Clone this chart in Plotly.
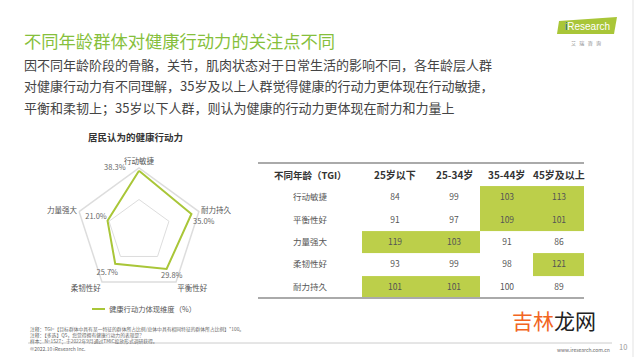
import plotly.graph_objects as go

W, H = 641, 357
FONT = "Noto Sans CJK SC"

# ---------------- data ----------------
title_text = "不同年龄群体对健康行动力的关注点不同"
body_lines = [
    "因不同年龄阶段的骨骼，关节，肌肉状态对于日常生活的影响不同，各年龄层人群",
    "对健康行动力有不同理解，35岁及以上人群觉得健康的行动力更体现在行动敏捷，",
    "平衡和柔韧上；35岁以下人群，则认为健康的行动力更体现在耐力和力量上",
]
radar_title = "居民认为的健康行动力"
radar_dims = ["行动敏捷", "耐力持久", "平衡性好", "柔韧性好", "力量强大"]
radar_vals = [38.3, 35.0, 29.8, 25.7, 21.0]
radar_series = "健康行动力体现维度（%）"

table_corner = "不同年龄（TGI）"
age_groups = ["25岁以下", "25-34岁", "35-44岁", "45岁及以上"]
table_rows = ["行动敏捷", "平衡性好", "力量强大", "柔韧性好", "耐力持久"]
tgi_under25 = [84, 91, 119, 93, 101]
tgi_25_34 = [99, 97, 103, 99, 101]
tgi_35_44 = [103, 109, 91, 98, 100]
tgi_45plus = [113, 101, 86, 121, 89]

notes = [
    "注释：TGI=【目标群体中具有某一特征的群体所占比例/总体中具有相同特征的群体所占比例】*100。",
    "注释：【多选】Q5，您觉得拥有健康行动力的表现是？",
    "样本：N=1527；于2022年9月通过TMIC投放形式调研获得。",
]
copyright_text = "©2022.10 iResearch Inc."
site_text = "www.iresearch.com.cn"
page_no = "10"

GREEN_TITLE = "#86bf3c"
GREEN_LINE = "#a9c638"
GREEN_CELL = "#bccf4a"

# value-label placement offsets (radial units, degrees) – styling only
label_dr = [4.5, 6.5, 5.6, 7.8, 7.7]
label_dtheta = [-21, 10.5, 0, 1, 0]


def px(x):
    return x / W


def py(y):
    return 1 - y / H


fig = go.Figure()

# ---------------- radar ----------------
cx, cy, R = 139, 231, 63
RMAX = 40
polar_domain = dict(x=[px(cx - R), px(cx + R)], y=[py(cy + R), py(cy - R)])
# label layer: same centre and scale, twice the radius so labels beyond the outer ring are kept
R2 = 2 * R
label_domain = dict(x=[px(cx - R2), px(cx + R2)], y=[py(cy + R2), py(cy - R2)])

theta = radar_dims + [radar_dims[0]]
r = radar_vals + [radar_vals[0]]
fig.add_trace(go.Scatterpolar(
    r=r, theta=theta, mode="lines",
    line=dict(color=GREEN_LINE, width=2),
    name=radar_series, showlegend=False, hoverinfo="skip", subplot="polar",
))
step = 360 / len(radar_dims)
fig.add_trace(go.Scatterpolar(
    r=[v + d for v, d in zip(radar_vals, label_dr)],
    theta=[i * step + d for i, d in enumerate(label_dtheta)],
    mode="text", text=[f"{v:.1f}%" for v in radar_vals],
    textfont=dict(family=FONT, size=7.5, color="#666"),
    cliponaxis=False, showlegend=False, hoverinfo="skip", subplot="polar2",
))
fig.update_layout(
    polar=dict(
        domain=polar_domain,
        gridshape="linear",
        bgcolor="rgba(0,0,0,0)",
        radialaxis=dict(range=[0, RMAX], tickvals=[20, 40], showticklabels=False,
                        showline=False, ticks="", gridcolor="#dddddd", gridwidth=1),
        angularaxis=dict(rotation=90, direction="clockwise", showgrid=False,
                         showline=True, linecolor="#dddddd", linewidth=1.5, ticks="",
                         tickfont=dict(family=FONT, size=7.5, color="#555")),
    ),
    polar2=dict(
        domain=label_domain,
        bgcolor="rgba(0,0,0,0)",
        radialaxis=dict(range=[0, 2 * RMAX], visible=False),
        angularaxis=dict(rotation=90, direction="clockwise", visible=False),
    ),
)

# ---------------- table (heatmap grid) ----------------
col_widths = [104, 66, 52, 53, 51]
edges = [0]
for w in col_widths:
    edges.append(edges[-1] + w)
centers = [(edges[i] + edges[i + 1]) / 2 for i in range(len(col_widths))]
cols = [tgi_under25, tgi_25_34, tgi_35_44, tgi_45plus]
nrows = len(table_rows)
z = [[0] + [1 if c[i] > 100 else 0 for c in cols] for i in range(nrows)]
txt = [[table_rows[i]] + [str(c[i]) for c in cols] for i in range(nrows)]
fig.add_trace(go.Heatmap(
    x=edges, y=list(range(nrows)), z=z, text=txt, texttemplate="%{text}",
    textfont=dict(family=FONT, size=8.5, color="#555"),
    colorscale=[[0, "white"], [1, GREEN_CELL]], zmin=0, zmax=1,
    showscale=False, hoverinfo="skip", xgap=0, ygap=0,
    xaxis="x", yaxis="y",
))
fig.update_layout(
    xaxis=dict(domain=[px(258), px(584)], range=[0, edges[-1]], visible=False, fixedrange=True),
    yaxis=dict(domain=[py(298), py(163)], range=[nrows - 0.5, -1.53], visible=False, fixedrange=True),
)

shapes = [
    dict(type="line", xref="paper", yref="paper", x0=px(258), x1=px(584), y0=py(163), y1=py(163),
         line=dict(color="#aaaaaa", width=2)),
    dict(type="line", xref="paper", yref="paper", x0=px(258), x1=px(584), y0=py(298), y1=py(298),
         line=dict(color="#aaaaaa", width=2)),
    # legend swatch
    dict(type="line", xref="paper", yref="paper", x0=px(92), x1=px(105), y0=py(309), y1=py(309),
         line=dict(color=GREEN_LINE, width=2)),
    # footer rule
    dict(type="line", xref="paper", yref="paper", x0=px(28), x1=px(612), y0=py(343), y1=py(343),
         line=dict(color="#cccccc", width=1)),
    # slide right border
    dict(type="line", xref="paper", yref="paper", x0=px(633), x1=px(633), y0=0, y1=1,
         line=dict(color="#e3e3e3", width=1)),
    # logo parallelogram
    dict(type="path", xref="paper", yref="paper",
         path=f"M {px(559)} {py(21)} L {px(617)} {py(17)} L {px(614)} {py(34)} L {px(557)} {py(34)} Z",
         fillcolor="#a9c638", line=dict(width=0)),
]

ann = []
# table header
ann.append(dict(x=centers[0], y=-1, xref="x", yref="y", text=f"<b>{table_corner}</b>",
                xanchor="center", yanchor="middle", font=dict(family=FONT, size=9.5, color="#333")))
for i, a in enumerate(age_groups):
    ann.append(dict(x=centers[i + 1], y=-1, xref="x", yref="y", text=f"<b>{a}</b>",
                    xanchor="center", yanchor="middle", font=dict(family=FONT, size=10, color="#333")))

paper_ann = []
paper_ann.append(dict(x=px(22), y=py(40), text=title_text, xanchor="left", yanchor="middle",
                      font=dict(family=FONT, size=17.3, color=GREEN_TITLE)))
for i, line in enumerate(body_lines):
    paper_ann.append(dict(x=px(22), y=py(64 + i * 21.5), text=line, xanchor="left", yanchor="middle",
                          font=dict(family=FONT, size=13, color="#444")))
paper_ann.append(dict(x=px(135), y=py(137), text=f"<b>{radar_title}</b>", xanchor="center", yanchor="middle",
                      font=dict(family=FONT, size=9.5, color="#333")))
paper_ann.append(dict(x=px(107), y=py(309), text=radar_series, xanchor="left", yanchor="middle",
                      font=dict(family=FONT, size=7.3, color="#555")))
for i, n in enumerate(notes):
    paper_ann.append(dict(x=px(28), y=py(329 + i * 6), text=n, xanchor="left", yanchor="middle",
                          font=dict(family=FONT, size=4.8, color="#666")))
paper_ann.append(dict(x=px(28), y=py(348.5), text=copyright_text, xanchor="left", yanchor="middle",
                      font=dict(family=FONT, size=5, color="#666")))
paper_ann.append(dict(x=px(612), y=py(349), text=site_text, xanchor="right", yanchor="middle",
                      font=dict(family=FONT, size=5, color="#666")))
paper_ann.append(dict(x=px(623), y=py(346), text=page_no, xanchor="center", yanchor="middle",
                      font=dict(family=FONT, size=7.5, color="#999")))
paper_ann.append(dict(x=px(510), y=py(320), text="<span style='color:#f26522'>吉林</span>龙网",
                      xanchor="left", yanchor="middle",
                      font=dict(family=FONT, size=21, color="#222")))
# logo text
paper_ann.append(dict(x=px(587), y=py(26.5), text="<span style='color:#1b5fa8'>i</span>Research",
                      xanchor="center", yanchor="middle",
                      font=dict(family="Liberation Sans", size=10, color="white")))
paper_ann.append(dict(x=px(586), y=py(43), text="艾   瑞   咨   询", xanchor="center", yanchor="middle",
                      font=dict(family=FONT, size=5, color="#888")))
for a in paper_ann:
    a.update(xref="paper", yref="paper")
ann += paper_ann
for a in ann:
    a.update(showarrow=False)

fig.update_layout(
    width=W, height=H, margin=dict(l=0, r=0, t=0, b=0),
    paper_bgcolor="white", plot_bgcolor="white",
    showlegend=False, shapes=shapes, annotations=ann,
    font=dict(family=FONT),
)

fig.write_html("out.html", config={"displayModeBar": False, "staticPlot": True},
               post_script="document.body.style.margin='0';document.body.style.overflow='hidden';")
